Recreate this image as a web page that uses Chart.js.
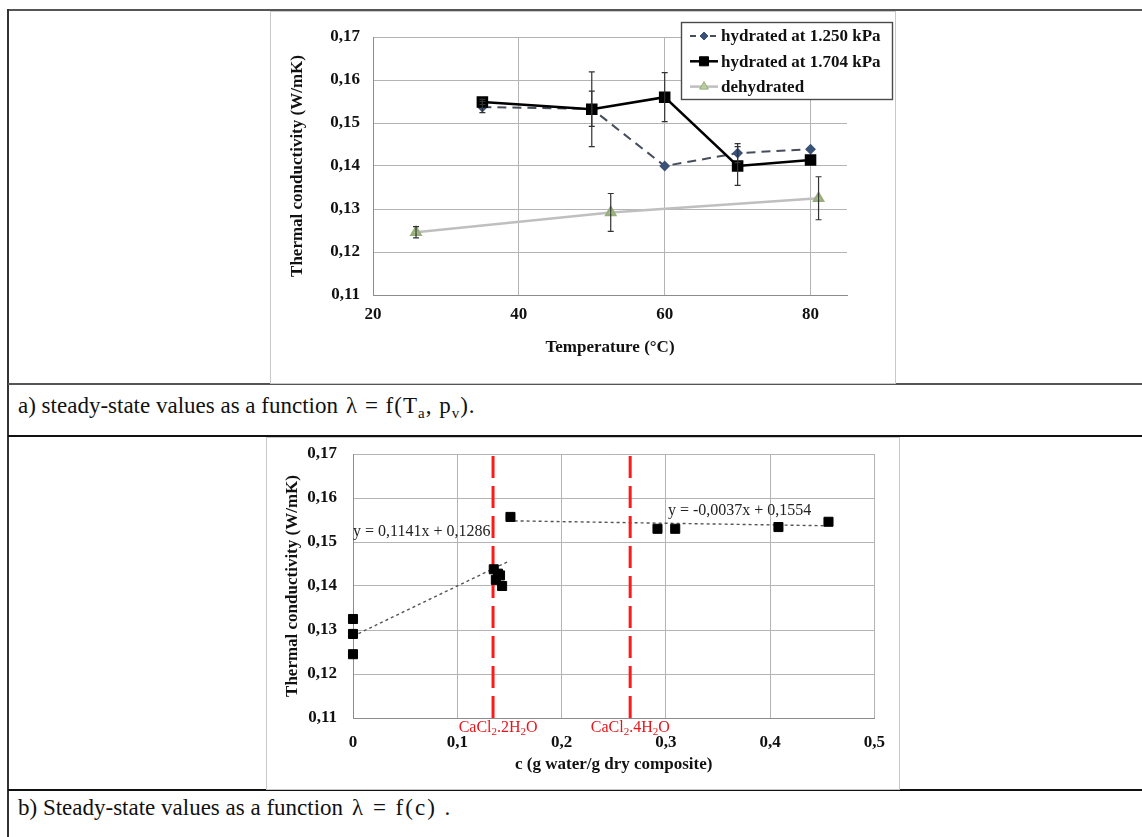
<!DOCTYPE html>
<html>
<head>
<meta charset="utf-8">
<script src="https://cdn.jsdelivr.net/npm/chart.js@4.4.0/dist/chart.umd.min.js"></script>
<style>
  html, body { margin: 0; padding: 0; background: #fff; }
  body { width: 1142px; height: 837px; position: relative; overflow: hidden;
         font-family: "Liberation Serif", "Times New Roman", serif; }
  .rule { position: absolute; background: #222; }
  .frame { position: absolute; border: 1px solid #c8c8c8; box-sizing: border-box; }
  .cap { position: absolute; left: 18px; font-size: 23px; line-height: 1; color: #111; white-space: nowrap; }
  .cap .eq { position: absolute; left: 328px; top: 0; }
  .cap sub { font-size: 15px; vertical-align: -5px; line-height: 0; }
  .holder { position: absolute; }
</style>
</head>
<body>
<!-- table lines -->
<div class="rule" style="left:7px; top:9px; width:1135px; height:2px; background:#555"></div>
<div class="rule" style="left:7px; top:9px; width:2px; height:828px; background:#333"></div>
<div class="rule" style="left:8px; top:383px; width:1134px; height:2px; background:#555"></div>
<div class="rule" style="left:8px; top:435px; width:1134px; height:2px; background:#111"></div>
<div class="rule" style="left:8px; top:789px; width:1134px; height:2px; background:#111"></div>

<div class="frame" style="left:270px; top:11px; width:626px; height:373px"></div>
<div class="frame" style="left:266px; top:437px; width:634px; height:353px"></div>

<div class="cap" style="top:394px">a) steady-state values as a function<span class="eq" style="letter-spacing:1px">λ = f(T<sub>a</sub>, p<sub>v</sub>).</span></div>
<div class="cap" style="top:796px">b) Steady-state values as a function<span class="eq" style="left:334px; letter-spacing:2px">λ = f(c) .</span></div>

<div class="holder" style="left:271px; top:12px; width:623px; height:370px"><canvas id="chartA"></canvas></div>
<div class="holder" style="left:268px; top:438px; width:631px; height:351px"><canvas id="chartB"></canvas></div>

<script>
// --- a) lambda vs temperature ---
const tempHyd = [35, 50, 60, 70, 80];
const lambda1250 = [0.1537, 0.1533, 0.1400, 0.1430, 0.1439];
const err1250 = [0.0013, 0.0041, 0, 0.0022, 0];
const lambda1704 = [0.1549, 0.1532, 0.1560, 0.1400, 0.1414];
const err1704 = [0.0006, 0.0087, 0.0057, 0.0045, 0];
const tempDehyd = [25.9, 52.6, 81.1];
const lambdaDehyd = [0.1246, 0.1292, 0.1325];
const errDehyd = [0.0013, 0.0044, 0.0050];

const tempTicks = [20, 40, 60, 80];
const tempTickLabels = ['20', '40', '60', '80'];
const lambdaTicks = [0.11, 0.12, 0.13, 0.14, 0.15, 0.16, 0.17];
const lambdaTickLabels = ['0,11', '0,12', '0,13', '0,14', '0,15', '0,16', '0,17'];

// --- b) lambda vs water content ---
const cWater = [0, 0, 0, 0.135, 0.139, 0.141, 0.137, 0.143, 0.151, 0.292, 0.309, 0.408, 0.456];
const lambdaC = [0.1325, 0.1291, 0.1245, 0.1438, 0.1428, 0.1424, 0.1414, 0.1400, 0.1557, 0.1530, 0.1530, 0.1534, 0.1546];
const trendLowC = [0, 0.150];
const trendLowLambda = [0.1286, 0.1457];
const trendHighC = [0.155, 0.452];
const trendHighLambda = [0.1548, 0.1537];
const hydrateC = [0.1343, 0.2658];
const hydrateNames = [['CaCl', '2', '.2H', '2', 'O'], ['CaCl', '2', '.4H', '2', 'O']];
const cTicks = [0, 0.1, 0.2, 0.3, 0.4, 0.5];
const cTickLabels = ['0', '0,1', '0,2', '0,3', '0,4', '0,5'];

// label placement (data coords)
const eqLabels = [
  { text: 'y = 0,1141x + 0,1286', c: 0.0, lambda: 0.1524 },
  { text: 'y = -0,0037x + 0,1554', c: 0.302, lambda: 0.1570 },
];
const hydrateLabelLeft = [0.1013, 0.2281];
const hydrateLabelLambda = 0.1077;

Chart.defaults.font.family = "'Liberation Serif', 'Times New Roman', serif";
Chart.defaults.color = '#111';

const axisFont = { size: 17, weight: 'bold' };
const gridColor = '#b4b4b4';
const borderColor = '#8c8c8c';

function toPoints(xs, ys) {
  return xs.map((x, i) => ({ x: x, y: ys[i] }));
}

function fixedTicks(values) {
  return axis => { axis.ticks = values.map(v => ({ value: v })); };
}

// vertical error bars from dataset.errorBars
const errorBarsPlugin = {
  id: 'errorBars',
  afterDatasetsDraw(chart) {
    const ctx = chart.ctx;
    const y = chart.scales.y;
    chart.data.datasets.forEach((ds, i) => {
      if (!ds.errorBars) return;
      const meta = chart.getDatasetMeta(i);
      ctx.save();
      ctx.strokeStyle = '#333';
      ctx.lineWidth = 1.2;
      meta.data.forEach((pt, j) => {
        const e = ds.errorBars[j];
        if (!e) return;
        const v = ds.data[j].y;
        const top = y.getPixelForValue(v + e);
        const bot = y.getPixelForValue(v - e);
        ctx.beginPath();
        ctx.moveTo(pt.x, top); ctx.lineTo(pt.x, bot);
        ctx.moveTo(pt.x - 3, top); ctx.lineTo(pt.x + 3, top);
        ctx.moveTo(pt.x - 3, bot); ctx.lineTo(pt.x + 3, bot);
        ctx.stroke();
      });
      ctx.restore();
    });
  }
};

function drawMarker(ctx, style, x, y, r, fill, stroke) {
  ctx.beginPath();
  if (style === 'rect') {
    const s = r * Math.SQRT1_2;
    ctx.rect(x - s, y - s, 2 * s, 2 * s);
  } else if (style === 'rectRot') {
    ctx.moveTo(x, y - r); ctx.lineTo(x + r, y); ctx.lineTo(x, y + r); ctx.lineTo(x - r, y);
    ctx.closePath();
  } else {
    ctx.moveTo(x, y - r); ctx.lineTo(x + r * 0.87, y + r * 0.5); ctx.lineTo(x - r * 0.87, y + r * 0.5);
    ctx.closePath();
  }
  ctx.fillStyle = fill;
  ctx.fill();
  ctx.strokeStyle = stroke;
  ctx.lineWidth = 1;
  ctx.stroke();
}

// boxed legend in the top right corner of chart a
const legendBoxPlugin = {
  id: 'legendBox',
  afterDraw(chart) {
    const ctx = chart.ctx;
    const bx = 410, by = 10, bw = 211, bh = 77;
    ctx.save();
    ctx.fillStyle = '#fff';
    ctx.fillRect(bx, by, bw, bh);
    ctx.strokeStyle = '#4a4a4a';
    ctx.lineWidth = 1.4;
    ctx.strokeRect(bx + 0.5, by + 0.5, bw, bh);
    ctx.font = 'bold 17px "Liberation Serif", "Times New Roman", serif';
    ctx.textBaseline = 'middle';
    ctx.textAlign = 'left';
    chart.data.datasets.forEach((ds, i) => {
      const ry = by + 14 + i * 25.3;
      ctx.beginPath();
      ctx.setLineDash(ds.borderDash ? [6, 4] : []);
      ctx.strokeStyle = ds.borderColor;
      ctx.lineWidth = ds.borderWidth;
      ctx.moveTo(bx + 9, ry); ctx.lineTo(bx + 37, ry);
      ctx.stroke();
      ctx.setLineDash([]);
      drawMarker(ctx, ds.pointStyle, bx + 23, ry, ds.pointRadius, ds.pointBackgroundColor, ds.pointBorderColor);
      ctx.fillStyle = '#111';
      ctx.fillText(ds.label, bx + 40, ry + 1);
    });
    ctx.restore();
  }
};

// equations and hydrate names on chart b
const chartBLabels = {
  id: 'chartBLabels',
  afterDraw(chart) {
    const ctx = chart.ctx;
    const xs = chart.scales.x, ys = chart.scales.y;
    ctx.save();
    ctx.textBaseline = 'middle';
    ctx.textAlign = 'left';
    ctx.fillStyle = '#222';
    ctx.font = '16px "Liberation Serif", "Times New Roman", serif';
    eqLabels.forEach(l => {
      ctx.fillText(l.text, xs.getPixelForValue(l.c), ys.getPixelForValue(l.lambda));
    });
    ctx.fillStyle = '#e8141b';
    hydrateNames.forEach((parts, i) => {
      let x = xs.getPixelForValue(hydrateLabelLeft[i]);
      const y = ys.getPixelForValue(hydrateLabelLambda);
      parts.forEach((p, k) => {
        const sub = k % 2 === 1;
        ctx.font = (sub ? '11px' : '16px') + ' "Liberation Serif", "Times New Roman", serif';
        ctx.fillText(p, x, sub ? y + 4 : y);
        x += ctx.measureText(p).width;
      });
    });
    ctx.restore();
  }
};

function lambdaAxis(width, tickPad, titlePad) {
  return {
    type: 'linear',
    min: lambdaTicks[0],
    max: lambdaTicks[lambdaTicks.length - 1],
    afterBuildTicks: fixedTicks(lambdaTicks),
    // fixed width; label overhang is covered by the layout padding
    afterFit: s => { s.width = width; s.paddingTop = 0; s.paddingBottom = 0; },
    grid: { color: gridColor, drawTicks: false },
    border: { color: borderColor },
    ticks: { padding: tickPad, font: axisFont, color: '#111', autoSkip: false,
             callback: (v, i) => lambdaTickLabels[i] },
    title: { display: true, text: 'Thermal conductivity (W/mK)', font: axisFont, color: '#111',
             padding: { top: titlePad, bottom: 0 } }
  };
}

// chart a
new Chart(document.getElementById('chartA'), {
  type: 'scatter',
  data: {
    datasets: [
      {
        label: 'hydrated at 1.250 kPa',
        data: toPoints(tempHyd, lambda1250),
        errorBars: err1250,
        showLine: true,
        borderColor: '#464d5c',
        borderWidth: 2,
        borderDash: [9, 6],
        pointStyle: 'rectRot',
        pointRadius: 4,
        pointBackgroundColor: '#3b5278',
        pointBorderColor: '#3b5278',
        order: 1
      },
      {
        label: 'hydrated at 1.704 kPa',
        data: toPoints(tempHyd, lambda1704),
        errorBars: err1704,
        showLine: true,
        borderColor: '#000',
        borderWidth: 2.5,
        pointStyle: 'rect',
        pointRadius: 6.4,
        pointBackgroundColor: '#000',
        pointBorderColor: '#000',
        order: 0
      },
      {
        label: 'dehydrated',
        data: toPoints(tempDehyd, lambdaDehyd),
        errorBars: errDehyd,
        showLine: true,
        borderColor: '#bfbfbf',
        borderWidth: 2.5,
        pointStyle: 'triangle',
        pointRadius: 5,
        pointBackgroundColor: '#b8cc9c',
        pointBorderColor: '#98ae7c',
        order: 2
      }
    ]
  },
  options: {
    responsive: true,
    maintainAspectRatio: false,
    animation: false,
    layout: { padding: { top: 25, right: 47, left: 0, bottom: 0 } },
    plugins: { legend: { display: false }, tooltip: { enabled: false } },
    scales: {
      x: {
        type: 'linear',
        min: 20,
        max: 85,
        afterBuildTicks: fixedTicks(tempTicks),
        afterFit: s => { s.height = 87; },
        grid: { color: gridColor, drawTicks: false },
        border: { color: borderColor },
        ticks: { padding: 9, font: axisFont, color: '#111', autoSkip: false, maxRotation: 0,
                 callback: (v, i) => tempTickLabels[i] },
        title: { display: true, text: 'Temperature (°C)', font: axisFont, color: '#111',
                 padding: { top: 0, bottom: 24 } }
      },
      y: lambdaAxis(102, 13, 16)
    }
  },
  plugins: [errorBarsPlugin, legendBoxPlugin]
});

// chart b
const hydrateLines = hydrateC.map(c => ({
  data: [{ x: c, y: lambdaTicks[0] }, { x: c, y: lambdaTicks[lambdaTicks.length - 1] }],
  showLine: true,
  borderColor: '#ff1a1a',
  borderWidth: 3,
  borderDash: [22, 8],
  pointRadius: 0
}));

new Chart(document.getElementById('chartB'), {
  type: 'scatter',
  data: {
    datasets: [
      {
        data: toPoints(cWater, lambdaC),
        pointStyle: 'rect',
        pointRadius: 6.4,
        pointBackgroundColor: '#000',
        pointBorderColor: '#000',
        clip: false,
        order: 0
      },
      {
        data: toPoints(trendLowC, trendLowLambda),
        showLine: true,
        borderColor: '#555',
        borderWidth: 1.4,
        borderDash: [3, 3],
        pointRadius: 0,
        order: 1
      },
      {
        data: toPoints(trendHighC, trendHighLambda),
        showLine: true,
        borderColor: '#555',
        borderWidth: 1.4,
        borderDash: [3, 3],
        pointRadius: 0,
        order: 1
      },
      ...hydrateLines
    ]
  },
  options: {
    responsive: true,
    maintainAspectRatio: false,
    animation: false,
    layout: { padding: { top: 16, right: 23, left: 0, bottom: 0 } },
    plugins: { legend: { display: false }, tooltip: { enabled: false } },
    scales: {
      x: {
        type: 'linear',
        min: cTicks[0],
        max: cTicks[cTicks.length - 1],
        afterBuildTicks: fixedTicks(cTicks),
        afterFit: s => { s.height = 71; },
        grid: { color: gridColor, drawTicks: false },
        border: { color: borderColor },
        ticks: { padding: 14, font: axisFont, color: '#111', autoSkip: false, maxRotation: 0,
                 callback: (v, i) => cTickLabels[i] },
        title: { display: true, text: 'c (g water/g dry composite)', font: axisFont, color: '#111',
                 padding: { top: 0, bottom: 14 } }
      },
      y: lambdaAxis(85, 16, 14)
    }
  },
  plugins: [chartBLabels]
});
</script>
</body>
</html>
